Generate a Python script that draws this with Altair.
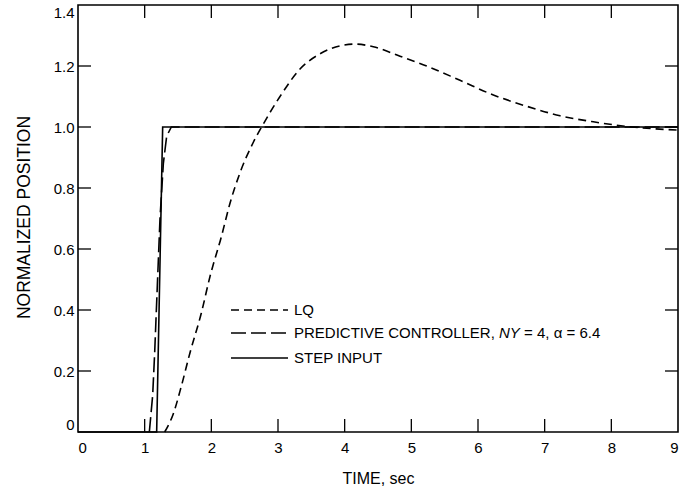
import altair as alt
import pandas as pd

# ---- data ----
step_t = [0, 1.18, 1.27, 9]
step_v = [0, 0, 1.0, 1.0]

pred_t = [1.07, 1.12, 1.15, 1.19, 1.23, 1.28, 1.33, 1.40, 9]
pred_v = [0, 0.12, 0.26, 0.48, 0.70, 0.88, 0.97, 1.0, 1.0]

lq_t = [1.30, 1.43, 1.55, 1.68, 1.85, 1.98, 2.15, 2.28, 2.43, 2.63, 2.78, 3.03,
        3.33, 3.63, 3.93, 4.15, 4.43, 4.83, 5.23, 5.73, 6.23, 6.73, 7.23, 7.73,
        8.23, 8.98]
lq_v = [0, 0.06, 0.15, 0.26, 0.39, 0.51, 0.64, 0.75, 0.85, 0.95, 1.01, 1.10,
        1.19, 1.24, 1.266, 1.272, 1.263, 1.232, 1.20, 1.153, 1.105, 1.068, 1.037,
        1.017, 1.002, 0.99]

x_ticks = [0, 1, 2, 3, 4, 5, 6, 7, 8, 9]
y_ticks = [0, 0.2, 0.4, 0.6, 0.8, 1.0, 1.2, 1.4]
x_inner = [1, 2, 3, 4, 5, 6, 7, 8]
y_inner = [0.2, 0.4, 0.6, 0.8, 1.0, 1.2]

legend_labels = ["LQ", "PREDICTIVE CONTROLLER,", "NY", "= 4, α = 6.4", "STEP INPUT"]

FONT = "Liberation Sans"
W, H = 600, 427
TICK = 13

xs = alt.Scale(domain=[0, 9], nice=False, zero=False)
ys = alt.Scale(domain=[0, 1.4], nice=False)

step_df = pd.DataFrame({"t": step_t, "v": step_v})
pred_df = pd.DataFrame({"t": pred_t, "v": pred_v})
lq_df = pd.DataFrame({"t": lq_t, "v": lq_v})

x_axis = alt.Axis(values=x_ticks, format="d", title="TIME, sec",
                  ticks=False, domain=False, grid=False,
                  labelPadding=8, titlePadding=15)
y_axis = alt.Axis(values=y_ticks, title="NORMALIZED POSITION",
                  labelExpr="datum.value == 0 ? '0' : format(datum.value, '.1f')",
                  ticks=False, domain=False, grid=False, labelFlush=True,
                  labelPadding=4, titlePadding=20, titleFontSize=17.5, titleY=212)

def xe():
    return alt.X("t:Q", scale=xs, axis=x_axis)

def ye():
    return alt.Y("v:Q", scale=ys, axis=y_axis)

step = alt.Chart(step_df).mark_line(color="black", strokeWidth=1.6).encode(x=xe(), y=ye())
pred = alt.Chart(pred_df).mark_line(color="black", strokeWidth=1.6, strokeDash=[15, 5]).encode(
    x=xe(), y=ye())
lq = alt.Chart(lq_df).mark_line(color="black", strokeWidth=1.6, strokeDash=[8, 5],
                                interpolate="monotone").encode(x=xe(), y=ye())

xi = pd.DataFrame({"t": x_inner})
yi = pd.DataFrame({"v": y_inner})
tick_style = dict(color="black", strokeWidth=1.3)
bt = alt.Chart(xi).mark_rule(**tick_style).encode(x=xe(), y=alt.value(H), y2=alt.value(H - TICK))
tt = alt.Chart(xi).mark_rule(**tick_style).encode(x=xe(), y=alt.value(0), y2=alt.value(TICK))
lt = alt.Chart(yi).mark_rule(**tick_style).encode(y=ye(), x=alt.value(0), x2=alt.value(TICK))
rt = alt.Chart(yi).mark_rule(**tick_style).encode(y=ye(), x=alt.value(W), x2=alt.value(W - TICK))

# ---- hand-made legend ----
leg_df = pd.DataFrame({"a": [0]})
LX0, LX1, LTX = 153, 210, 216
rows = [305, 328, 353]
leg_lq = alt.Chart(leg_df).mark_rule(color="black", strokeWidth=1.6, strokeDash=[8, 5]).encode(
    x=alt.value(LX0), x2=alt.value(LX1), y=alt.value(rows[0]))
leg_pr = alt.Chart(leg_df).mark_rule(color="black", strokeWidth=1.6, strokeDash=[15, 5]).encode(
    x=alt.value(LX0), x2=alt.value(LX1), y=alt.value(rows[1]))
leg_st = alt.Chart(leg_df).mark_rule(color="black", strokeWidth=1.6).encode(
    x=alt.value(LX0), x2=alt.value(LX1), y=alt.value(rows[2]))

LFS = 15
txt = dict(font=FONT, fontSize=LFS, color="black", align="left", baseline="middle")
t1 = alt.Chart(leg_df).mark_text(**txt).encode(x=alt.value(LTX), y=alt.value(rows[0]),
                                               text=alt.value(legend_labels[0]))
t2 = alt.Chart(leg_df).mark_text(**txt).encode(x=alt.value(LTX), y=alt.value(rows[1]),
                                               text=alt.value(legend_labels[1]))
w1 = 13.391 * LFS + 0.278 * LFS
t3 = alt.Chart(leg_df).mark_text(fontStyle="italic", **txt).encode(
    x=alt.value(LTX + w1), y=alt.value(rows[1]), text=alt.value(legend_labels[2]))
w2 = w1 + 1.389 * LFS + 0.278 * LFS
t4 = alt.Chart(leg_df).mark_text(**txt).encode(x=alt.value(LTX + w2), y=alt.value(rows[1]),
                                               text=alt.value(legend_labels[3]))
t5 = alt.Chart(leg_df).mark_text(**txt).encode(x=alt.value(LTX), y=alt.value(rows[2]),
                                               text=alt.value(legend_labels[4]))

chart = alt.layer(step, pred, lq, bt, tt, lt, rt, leg_lq, leg_pr, leg_st, t1, t2, t3, t4, t5).properties(
    width=W, height=H, autosize="none",
    padding={"left": 78, "top": 5, "right": 16, "bottom": 59},
).configure(
    background="white",
).configure_view(
    stroke="black", strokeWidth=1.6,
).configure_axis(
    labelFont=FONT, titleFont=FONT, labelFontSize=15, titleFontSize=16,
    labelColor="black", titleColor="black", titleFontWeight="normal",
)

chart.save("out.html", embed_options={"renderer": "svg", "actions": False})
